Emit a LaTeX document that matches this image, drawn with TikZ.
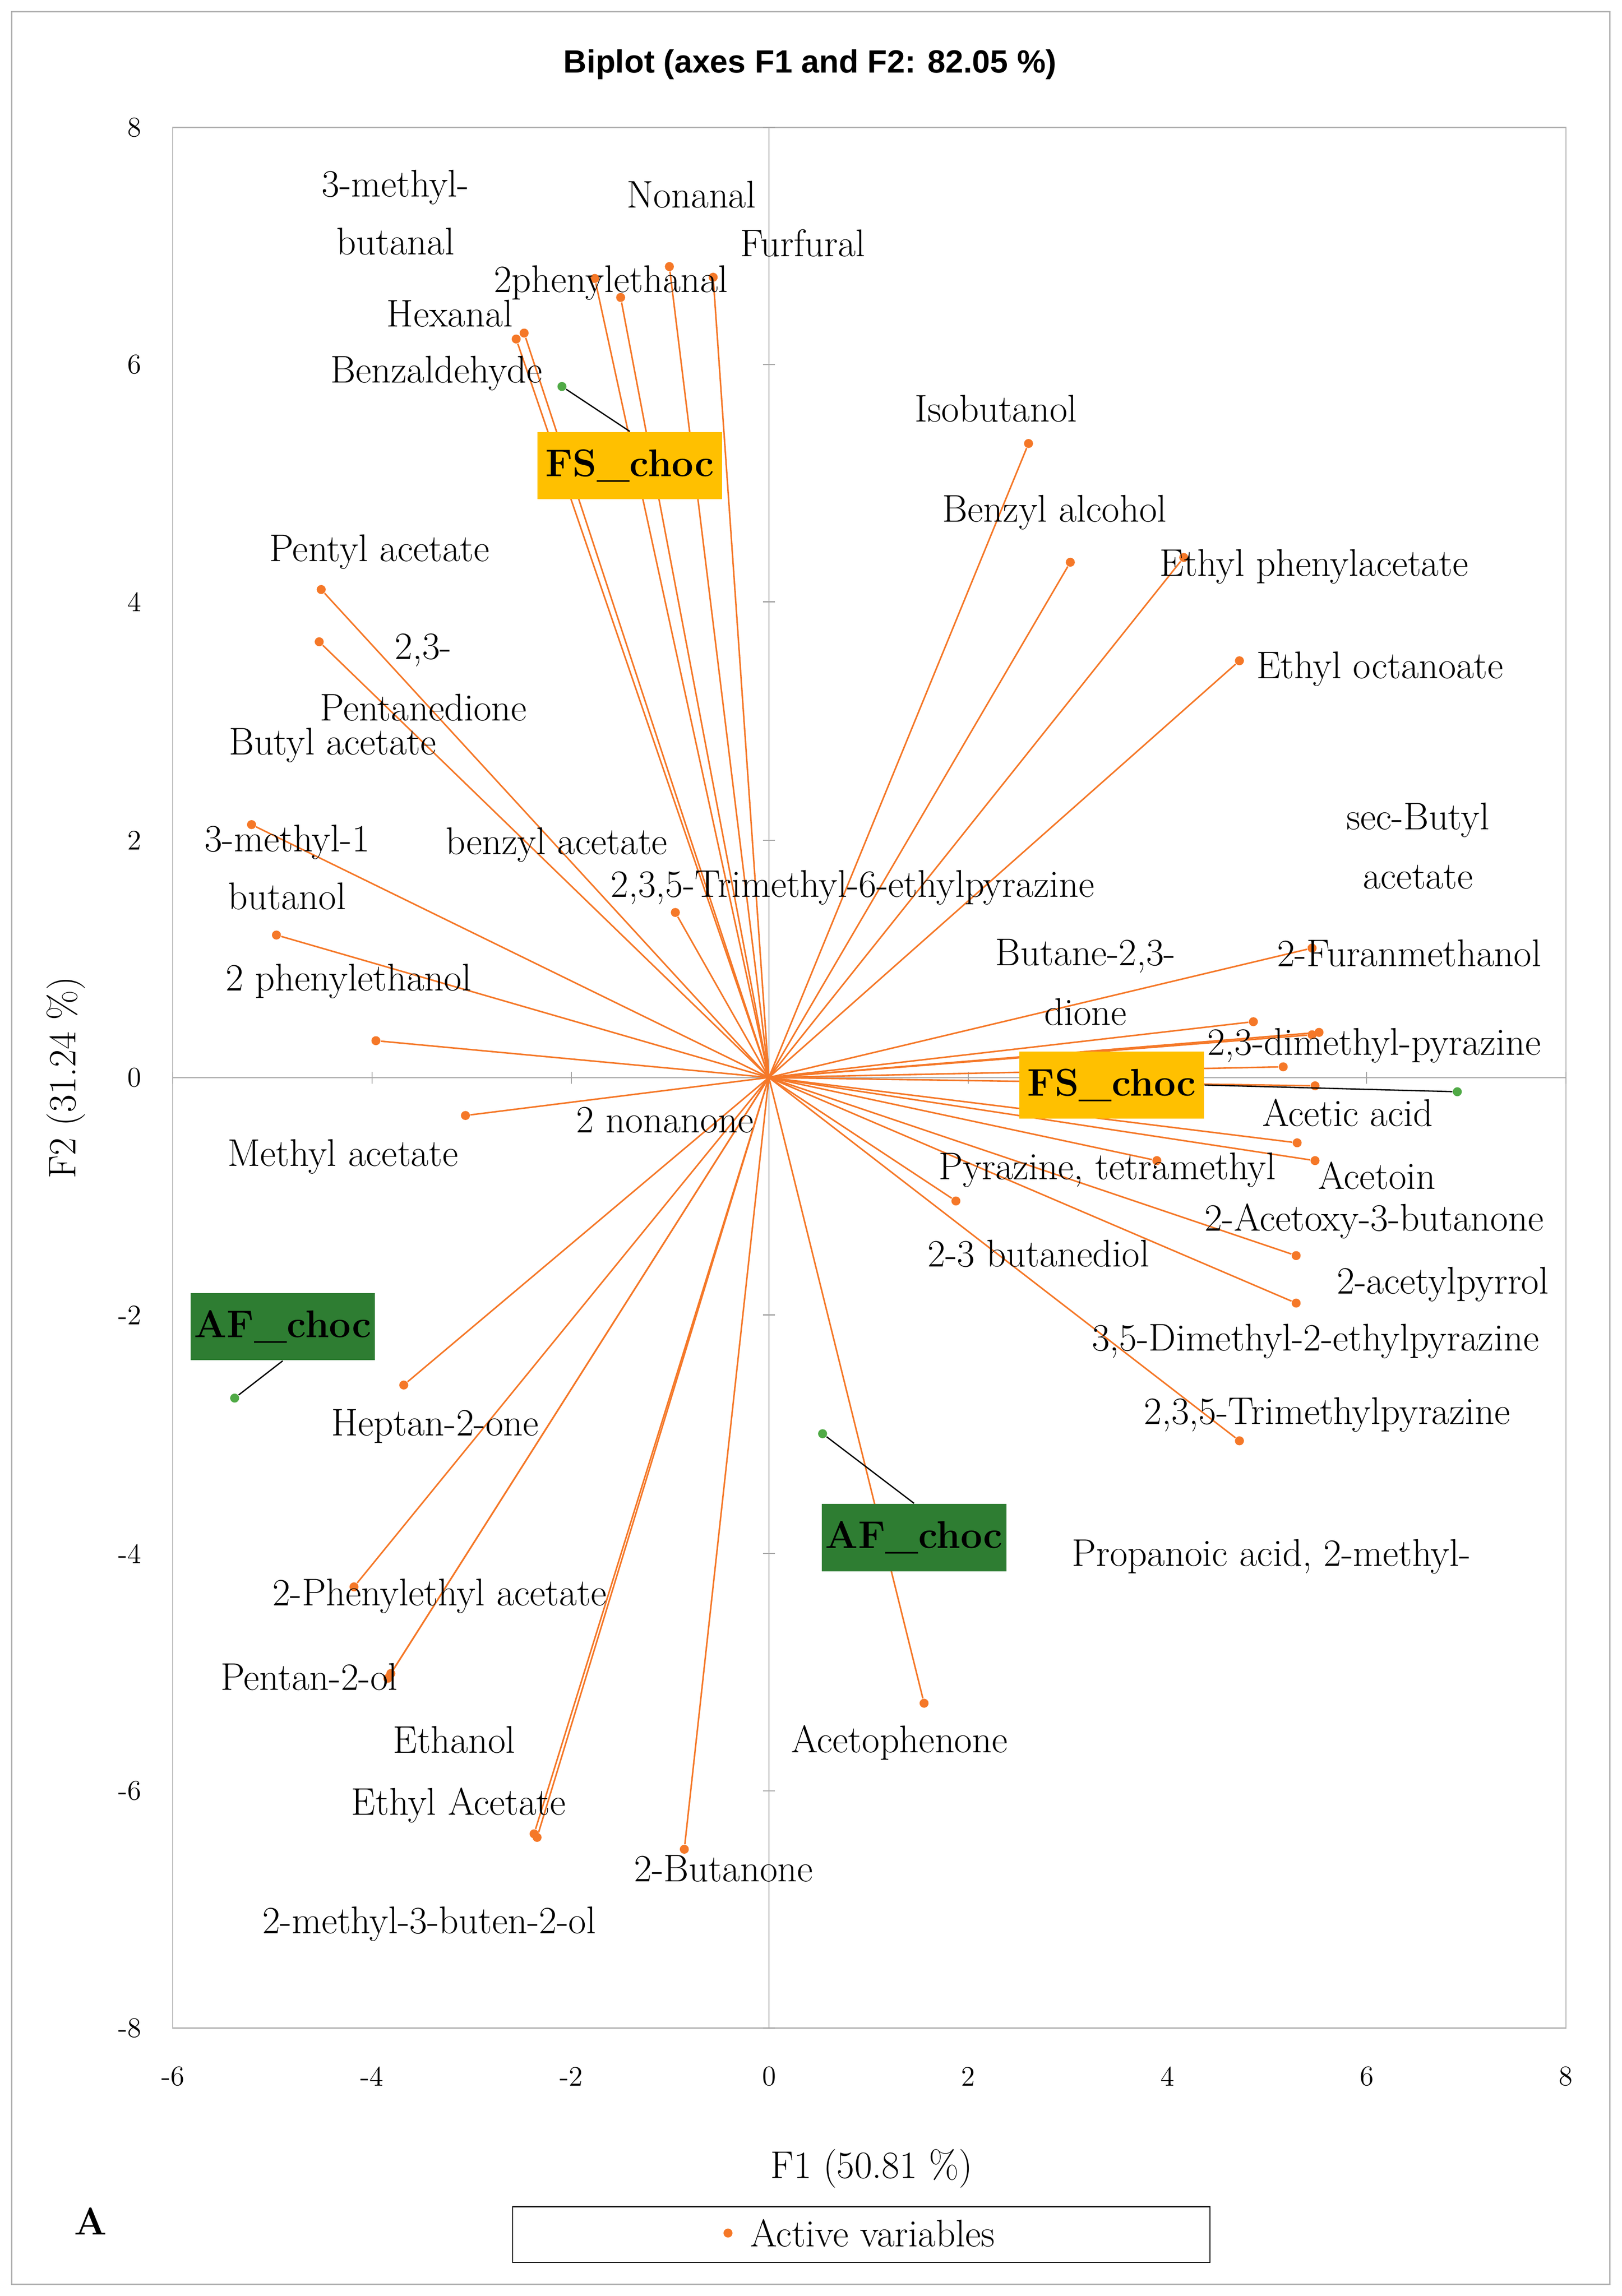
\documentclass[tikz,border=0pt]{standalone}
\usepackage{fontspec}
\newfontfamily\sansf{Liberation Sans}
\definecolor{vor}{RGB}{245,120,40}
\definecolor{ogr}{RGB}{80,170,70}
\definecolor{boxo}{RGB}{255,192,0}
\definecolor{boxg}{RGB}{46,125,50}
\begin{document}
\begin{tikzpicture}[x=0.02cm,y=-0.02cm,
  lab/.style={font=\fontsize{15}{17}\selectfont,inner sep=0pt},
  tick/.style={font=\fontsize{11}{13}\selectfont,inner sep=0pt},
  vec/.style={vor,line width=0.6pt},
  dot/.style={circle,fill=vor,inner sep=0pt,minimum size=3.5pt},
  gdot/.style={circle,fill=ogr,inner sep=0pt,minimum size=3.5pt},
  obsbox/.style={font=\bfseries\fontsize{15}{17}\selectfont,minimum width=2.52cm,minimum height=0.92cm,inner sep=0pt},
  lead/.style={black,line width=0.5pt}]
\useasboundingbox (0,0) rectangle (1107,1568);
\draw[gray!60] (8,8) rectangle (1099,1560);
\draw[gray!60] (118,87) rectangle (1069,1385);
\draw[gray!70] (525,87) -- (525,1385);
\draw[gray!70] (118,736) -- (1069,736);
\node[font=\sansf\bfseries\fontsize{12.5}{15}\selectfont] (title) at (553,44) {Biplot (axes F1 and F2: 82.05 \%)};
\foreach \v/\py in {8/87,6/249,4/411,2/574,0/736,-2/898,-4/1061,-6/1223,-8/1385}{
  \node[tick,anchor=east] (yt\v) at (97,\py) {\v};
  \draw[gray!70] (521,\py) -- (529,\py);}
\foreach \v/\px in {-6/118,-4/254,-2/390,0/525,2/661,4/797,6/933,8/1069}{
  \node[tick] (xt\v) at (\px,1418) {\v};
  \draw[gray!70] (\px,732) -- (\px,740);}
\node[lab] (xl) at (595,1481) {F1 (50.81 \%)};
\node[lab,rotate=90] (yl) at (45,736) {F2 (31.24 \%)};
\node[font=\bfseries\fontsize{15}{17}\selectfont] (A) at (62,1517) {A};
\draw (350,1507) rectangle (826,1545);
\node[dot] (ld) at (497,1525) {};
\node[lab,anchor=west] (lt) at (512,1525) {Active variables};
\begin{scope}[shift={(10.5cm,-14.72cm)},x=1.3586cm,y=1.622cm]
\coordinate (o) at (0,0);
\foreach \i/\x/\y in {1/-1.00/6.83,2/-0.56/6.74,3/-1.49/6.57,4/-1.75/6.73,5/-2.46/6.27,6/-2.54/6.22,
 7/2.61/5.34,8/3.03/4.34,9/4.17/4.38,10/4.73/3.51,11/-4.50/4.11,12/-4.52/3.67,13/-5.20/2.13,
 14/-4.95/1.20,15/-3.95/0.31,16/-3.05/-0.32,17/-0.94/1.39,18/5.46/1.09,19/4.87/0.47,20/5.53/0.38,
 21/5.17/0.09,22/5.49/-0.07,23/5.31/-0.55,24/5.49/-0.70,25/3.90/-0.70,26/1.88/-1.04,27/5.30/-1.50,
 28/5.30/-1.90,29/4.73/-3.06,30/1.56/-5.27,31/-0.85/-6.50,32/-2.36/-6.37,33/-2.33/-6.40,
 34/-3.83/-5.06,35/-3.80/-5.02,36/-4.17/-4.29,37/-3.67/-2.59,38/5.46/0.36}{
  \node[dot] (v\i) at (\x,\y) {};
  \draw[vec] (o) -- (v\i);}
\node[gdot] (g1) at (-2.08,5.82) {};
\node[gdot] (g2) at (6.92,-0.12) {};
\node[gdot] (g3) at (-5.37,-2.70) {};
\node[gdot] (g4) at (0.54,-3.00) {};
\end{scope}
\node[obsbox,fill=boxo] (b1) at (430,318) {FS\_choc};
\node[obsbox,fill=boxo] (b2) at (759,741) {FS\_choc};
\node[obsbox,fill=boxg] (b3) at (193,906) {AF\_choc};
\node[obsbox,fill=boxg] (b4) at (624,1050) {AF\_choc};
\draw[lead] (g1) -- (b1.north);
\draw[lead] (g2) -- (b2.east);
\draw[lead] (g3) -- (b3.south);
\draw[lead] (g4) -- (b4.north);
\foreach \n/\px/\py/\t in {
 l1/270/128/3-methyl-, l2/270/165/butanal, l3/472/133/Nonanal, l4/548/166/Furfural,
 l5/417/193/2phenylethanal, l6/307/214/Hexanal, l7/298/255/Benzaldehyde, l8/680/279/Isobutanol,
 l9/720/350/Benzyl alcohol, l10/897/387/Ethyl phenylacetate, l11/942/457/Ethyl octanoate,
 l12/259/377/Pentyl acetate, l13/289/444/{2,3-}, l14/289/483/Pentanedione, l15/227/509/Butyl acetate,
 l16/968/560/sec-Butyl, l17/968/599/acetate, l18/196/575/3-methyl-1, l19/380/577/benzyl acetate,
 l20/196/612/butanol, l21/582/606/{2,3,5-Trimethyl-6-ethylpyrazine}, l22/741/653/{Butane-2,3-},
 l23/962/651/2-Furanmethanol, l24/238/670/2 phenylethanol, l25/741/691/dione,
 l26/938/714/{2,3-dimethyl-pyrazine}, l27/454/765/2 nonanone, l28/920/760/Acetic acid,
 l29/234/790/Methyl acetate, l30/756/799/{Pyrazine, tetramethyl}, l31/940/803/Acetoin,
 l32/938/834/2-Acetoxy-3-butanone, l33/709/856/2-3 butanediol, l34/985/877/2-acetylpyrrol,
 l35/898/916/{3,5-Dimethyl-2-ethylpyrazine}, l36/297/974/Heptan-2-one, l37/906/966/{2,3,5-Trimethylpyrazine},
 l38/868/1063/{Propanoic acid, 2-methyl-}, l39/300/1090/2-Phenylethyl acetate, l40/211/1145/Pentan-2-ol,
 l41/310/1188/Ethanol, l42/614/1190/Acetophenone, l43/313/1233/Ethyl Acetate, l44/494/1276/2-Butanone,
 l45/293/1314/2-methyl-3-buten-2-ol}{
  \node[lab] (\n) at (\px,\py) {\t};}
\end{tikzpicture}
\end{document}
